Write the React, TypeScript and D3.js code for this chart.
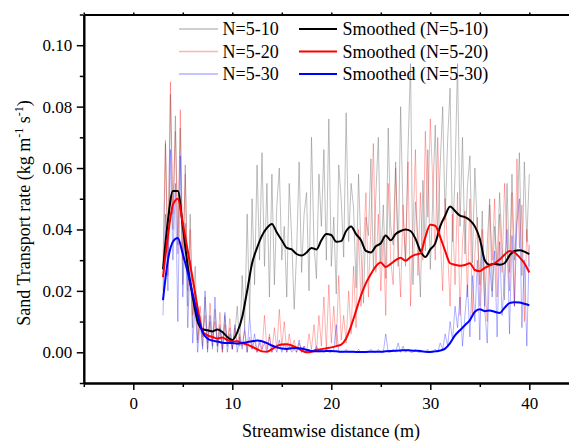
import * as d3 from "d3";
import { useEffect, useRef } from "react";

// streamwise positions (m): raw records every 0.25 m, smoothed every 0.5 m
const rawDistance = d3.range(0, 149).map((i) => 3 + i * 0.25);
const smoothDistance = d3.range(0, 75).map((i) => 3 + i * 0.5);

const rawN10 = [
  0.020, 0.068, 0.030, 0.084, 0.040, 0.077, 0.035, 0.073, 0.022, 0.061, 0.015, 0.045, 0.008,
  0.028, 0.004, 0.012, 0.002, 0.018, 0.003, 0.010, 0.001, 0.014, 0.002, 0.009, 0.000, 0.012, 0.003, 0.008, 0.001, 0.006, 0.015, 0.002,
  0.025, 0.008, 0.045, 0.012, 0.050, 0.022, 0.061, 0.030, 0.065, 0.028, 0.055, 0.018, 0.058,
  0.022, 0.048, 0.060, 0.030,
  0.041, 0.018, 0.055, 0.037,
  0.014, 0.033, 0.062, 0.026,
  0.045, 0.052, 0.020, 0.070,
  0.035, 0.024, 0.058, 0.041,
  0.066, 0.030, 0.076, 0.028,
  0.044, 0.019, 0.061, 0.050,
  0.031, 0.078, 0.036, 0.055,
  0.047, 0.021, 0.058, 0.033,
  0.016, 0.044, 0.038, 0.063,
  0.027, 0.051, 0.070, 0.029,
  0.048, 0.024, 0.073, 0.041,
  0.035, 0.062, 0.028, 0.080,
  0.045, 0.030, 0.066, 0.094,
  0.022, 0.049, 0.037, 0.018,
  0.056, 0.033, 0.066, 0.027,
  0.050, 0.074, 0.038, 0.061,
  0.080, 0.043, 0.069, 0.086,
  0.036, 0.058, 0.094, 0.041,
  0.070, 0.032, 0.054, 0.064,
  0.029, 0.060, 0.040, 0.022,
  0.046, 0.015, 0.035, 0.050,
  0.020, 0.041, 0.028, 0.052,
  0.034, 0.017, 0.055, 0.026,
  0.058, 0.030, 0.043, 0.065,
  0.025, 0.062, 0.036, 0.058,
];

const rawN20 = [
  0.030, 0.069, 0.025, 0.088, 0.045, 0.072, 0.032, 0.079, 0.030, 0.058, 0.020, 0.040, 0.012,
  0.020, 0.003, 0.015, 0.005, 0.012, 0.001, 0.016, 0.004, 0.010, 0.002, 0.013, 0.000, 0.009, 0.002, 0.011, 0.001, 0.008, 0.003, 0.006,
  0.002, 0.007, 0.000, 0.005, 0.001, 0.004, 0.000, 0.003, 0.000, 0.012, 0.001, 0.006, 0.000,
  0.008, 0.001, 0.014, 0.002,
  0.010, 0.000, 0.006, 0.001,
  0.004, 0.000, 0.003, 0.000,
  0.002, 0.000, 0.006, 0.001,
  0.009, 0.000, 0.012, 0.002,
  0.018, 0.001, 0.022, 0.003,
  0.015, 0.002, 0.025, 0.004,
  0.012, 0.003, 0.020, 0.006,
  0.028, 0.008, 0.040, 0.015,
  0.034, 0.052, 0.018, 0.041,
  0.068, 0.026, 0.045, 0.020,
  0.038, 0.012, 0.055, 0.030,
  0.022, 0.060, 0.035, 0.018,
  0.048, 0.028, 0.062, 0.015,
  0.040, 0.066, 0.025, 0.052,
  0.030, 0.072, 0.044, 0.076,
  0.055, 0.030, 0.070, 0.038,
  0.020, 0.050, 0.033, 0.015,
  0.045, 0.022, 0.052, 0.012,
  0.036, 0.046, 0.018, 0.050,
  0.012, 0.032, 0.044, 0.015,
  0.040, 0.024, 0.010, 0.048,
  0.030, 0.050, 0.018, 0.045,
  0.026, 0.055, 0.036, 0.020,
  0.052, 0.015, 0.063, 0.034,
  0.048, 0.010, 0.040, 0.028,
];

const rawN30 = [
  0.012, 0.045, 0.020, 0.066, 0.030, 0.055, 0.010, 0.064, 0.018, 0.042, 0.008, 0.030, 0.003,
  0.015, 0.000, 0.010, 0.001, 0.020, 0.000, 0.012, 0.002, 0.018, 0.000, 0.008, 0.001, 0.013, 0.000, 0.006, 0.001, 0.009, 0.000, 0.005,
  0.001, 0.008, 0.000, 0.012, 0.001, 0.006, 0.000, 0.004, 0.001, 0.003, 0.000, 0.005, 0.000,
  0.002, 0.000, 0.004, 0.000,
  0.003, 0.000, 0.002, 0.000,
  0.001, 0.000, 0.004, 0.000,
  0.002, 0.000, 0.001, 0.000,
  0.000, 0.002, 0.000, 0.001,
  0.000, 0.001, 0.000, 0.000,
  0.001, 0.009, 0.000, 0.000,
  0.000, 0.001, 0.000, 0.000,
  0.000, 0.000, 0.001, 0.000,
  0.000, 0.000, 0.000, 0.001,
  0.000, 0.000, 0.001, 0.000,
  0.000, 0.006, 0.000, 0.000,
  0.001, 0.000, 0.003, 0.000,
  0.002, 0.000, 0.001, 0.000,
  0.000, 0.001, 0.000, 0.000,
  0.000, 0.000, 0.001, 0.000,
  0.000, 0.001, 0.000, 0.003,
  0.001, 0.006, 0.002, 0.010,
  0.004, 0.015, 0.008, 0.018,
  0.002, 0.012, 0.022, 0.005,
  0.025, 0.010, 0.030, 0.004,
  0.035, 0.014, 0.003, 0.028,
  0.018, 0.033, 0.005, 0.036,
  0.012, 0.024, 0.040, 0.006,
  0.038, 0.015, 0.042, 0.050,
  0.008, 0.030, 0.002, 0.035,
];

const smoothN10 = [
  0.027, 0.043, 0.0525, 0.0525, 0.041, 0.028, 0.018, 0.010, 0.0075, 0.0072,
  0.0068, 0.0074, 0.0066, 0.0050, 0.0040, 0.0065, 0.0115, 0.020, 0.029, 0.034,
  0.038, 0.0405, 0.0418, 0.039, 0.0365, 0.034, 0.0335, 0.032, 0.0315, 0.0325,
  0.034, 0.0335, 0.0365, 0.0385, 0.0382, 0.036, 0.0362, 0.0395, 0.041, 0.0385,
  0.0365, 0.033, 0.0325, 0.0345, 0.0355, 0.038, 0.0365, 0.0385, 0.0395, 0.040,
  0.0395, 0.037, 0.033, 0.031, 0.0335, 0.0355, 0.041, 0.0445, 0.0475, 0.046,
  0.0445, 0.044, 0.043, 0.041, 0.037, 0.030, 0.0285, 0.0288, 0.0285, 0.029,
  0.0315, 0.033, 0.0332, 0.0328, 0.032,
];

const smoothN20 = [
  0.0245, 0.038, 0.048, 0.050, 0.042, 0.033, 0.024, 0.0145, 0.0068, 0.0055,
  0.0050, 0.0045, 0.0048, 0.0040, 0.0035, 0.0036, 0.0030, 0.0025, 0.0018, 0.0010,
  0.0003, 0.0002, 0.0010, 0.0020, 0.0025, 0.0026, 0.0022, 0.0015, 0.0006, 0.0000,
  0.0002, 0.0008, 0.0010, 0.0013, 0.0016, 0.0020, 0.0025, 0.0045, 0.0085, 0.0135,
  0.0185, 0.0225, 0.0255, 0.0280, 0.0292, 0.0278, 0.0288, 0.0300, 0.0308, 0.0298,
  0.0310, 0.0318, 0.0322, 0.0375, 0.0415, 0.0412, 0.0375, 0.0330, 0.0290, 0.0285,
  0.0282, 0.0284, 0.0290, 0.0268, 0.0264, 0.0275, 0.0282, 0.0290, 0.0302, 0.0318,
  0.0330, 0.0325, 0.0310, 0.0290, 0.0260,
];

const smoothN30 = [
  0.017, 0.030, 0.036, 0.0372, 0.032, 0.026, 0.019, 0.012, 0.0065, 0.0045,
  0.0038, 0.0035, 0.0031, 0.0030, 0.0030, 0.0028, 0.0030, 0.0033, 0.0036, 0.0038,
  0.0036, 0.0030, 0.0022, 0.0016, 0.0012, 0.0011, 0.0013, 0.0014, 0.0012, 0.0008,
  0.0004, 0.0003, 0.0003, 0.0004, 0.0004, 0.0003, 0.0002, 0.0002, 0.0002, 0.0001,
  0.0001, 0.0001, 0.0002, 0.0002, 0.0002, 0.0003, 0.0004, 0.0005, 0.0006, 0.0007,
  0.0006, 0.0005, 0.0004, 0.0002, 0.0001, 0.0003, 0.0006, 0.0012, 0.0030, 0.0055,
  0.0072, 0.0088, 0.0105, 0.0132, 0.0140, 0.0134, 0.0136, 0.0132, 0.0128, 0.0145,
  0.0160, 0.0163, 0.0162, 0.0158, 0.0153,
];

const xTicks = [0, 10, 20, 30, 40];
const xMinorTicks = [-5, 5, 15, 25, 35, 45];
const yTicks = [0, 0.02, 0.04, 0.06, 0.08, 0.1];
const yMinorTicks = [-0.01, 0.01, 0.03, 0.05, 0.07, 0.09, 0.11];

const rawSeries = [
  { label: "N=5-10", values: rawN10, color: "#808080", opacity: 0.5 },
  { label: "N=5-20", values: rawN20, color: "#ff0000", opacity: 0.3 },
  { label: "N=5-30", values: rawN30, color: "#0000ff", opacity: 0.3 },
];
const smoothSeries = [
  { label: "Smoothed (N=5-10)", values: smoothN10, color: "#000000" },
  { label: "Smoothed (N=5-20)", values: smoothN20, color: "#ff0000" },
  { label: "Smoothed (N=5-30)", values: smoothN30, color: "#0000ff" },
];

const FONT = "'Liberation Serif', 'Times New Roman', serif";

const App = () => {
  const svgRef = useRef(null);

  useEffect(() => {
    const width = 569;
    const height = 441;
    const svg = d3.select(svgRef.current);
    svg.selectAll("*").remove();
    svg.attr("width", width).attr("height", height);

    const x = d3.scaleLinear().domain([-5, 45]).range([83.8, 578.8]);
    const y = d3.scaleLinear().domain([-0.01, 0.11]).range([383, 14.5]);

    const line = (xs) =>
      d3
        .line()
        .x((d, i) => x(xs[i]))
        .y((d) => y(d));

    // raw records
    rawSeries.forEach((s) => {
      svg
        .append("path")
        .datum(s.values)
        .attr("fill", "none")
        .attr("stroke", s.color)
        .attr("stroke-opacity", s.opacity)
        .attr("stroke-width", 1)
        .attr("d", line(rawDistance));
    });

    // smoothed curves
    smoothSeries.forEach((s) => {
      svg
        .append("path")
        .datum(s.values)
        .attr("fill", "none")
        .attr("stroke", s.color)
        .attr("stroke-width", 2)
        .attr("stroke-linejoin", "round")
        .attr("d", line(smoothDistance).curve(d3.curveMonotoneX));
    });

    // axes
    const styleAxis = (g) => {
      g.select(".domain").attr("stroke-width", 2);
      g.selectAll(".tick line").attr("stroke-width", 1.5);
      g.selectAll("text")
        .attr("font-family", FONT)
        .attr("font-size", 17)
        .attr("fill", "#000");
    };

    svg
      .append("g")
      .attr("transform", `translate(0,${y(-0.01)})`)
      .call(
        d3.axisBottom(x).tickValues(xTicks).tickSize(7).tickSizeOuter(0).tickPadding(6.5).tickFormat(d3.format("d"))
      )
      .call(styleAxis);
    svg
      .append("g")
      .attr("transform", `translate(0,${y(-0.01)})`)
      .call(d3.axisBottom(x).tickValues(xMinorTicks).tickSize(4).tickSizeOuter(0).tickFormat(() => ""))
      .call(styleAxis);

    svg
      .append("g")
      .attr("transform", `translate(0,${y(0.11)})`)
      .call(d3.axisTop(x).tickValues(xTicks.concat(xMinorTicks)).tickSize(2).tickSizeOuter(0).tickFormat(() => ""))
      .call(styleAxis);

    svg
      .append("g")
      .attr("transform", `translate(${x(-5)},0)`)
      .call(
        d3.axisLeft(y).tickValues(yTicks).tickSize(7).tickSizeOuter(0).tickPadding(4.5).tickFormat(d3.format(".2f"))
      )
      .call(styleAxis);
    svg
      .append("g")
      .attr("transform", `translate(${x(-5)},0)`)
      .call(d3.axisLeft(y).tickValues(yMinorTicks).tickSize(4).tickSizeOuter(0).tickFormat(() => ""))
      .call(styleAxis);

    // axis titles
    svg
      .append("text")
      .attr("x", 331)
      .attr("y", 436.5)
      .attr("text-anchor", "middle")
      .attr("font-family", FONT)
      .attr("font-size", 18)
      .text("Streamwise distance (m)");

    const yTitle = svg
      .append("text")
      .attr("transform", "translate(30,213) rotate(-90)")
      .attr("text-anchor", "middle")
      .attr("font-family", FONT)
      .attr("font-size", 18);
    yTitle.append("tspan").text("Sand Transport rate (kg m");
    yTitle.append("tspan").attr("font-size", 12).attr("dy", -7).text("-1");
    yTitle.append("tspan").attr("dy", 7).text(" s");
    yTitle.append("tspan").attr("font-size", 12).attr("dy", -7).text("-1");
    yTitle.append("tspan").attr("dy", 7).text(")");

    // legend
    const rowY = [29, 51.5, 74];
    rawSeries.forEach((s, i) => {
      svg
        .append("line")
        .attr("x1", 179)
        .attr("x2", 218)
        .attr("y1", rowY[i])
        .attr("y2", rowY[i])
        .attr("stroke", s.color)
        .attr("stroke-opacity", s.opacity)
        .attr("stroke-width", 1.5);
      svg
        .append("text")
        .attr("x", 222.5)
        .attr("y", rowY[i] + 6)
        .attr("font-family", FONT)
        .attr("font-size", 18)
        .text(s.label);
    });
    smoothSeries.forEach((s, i) => {
      svg
        .append("line")
        .attr("x1", 299)
        .attr("x2", 337)
        .attr("y1", rowY[i])
        .attr("y2", rowY[i])
        .attr("stroke", s.color)
        .attr("stroke-width", 2);
      svg
        .append("text")
        .attr("x", 342.5)
        .attr("y", rowY[i] + 6)
        .attr("font-family", FONT)
        .attr("font-size", 18)
        .text(s.label);
    });
  }, []);

  return (
    <svg
      ref={svgRef}
      style={{ position: "absolute", left: 0, top: 0, background: "#fff" }}
    ></svg>
  );
};

export default App;
